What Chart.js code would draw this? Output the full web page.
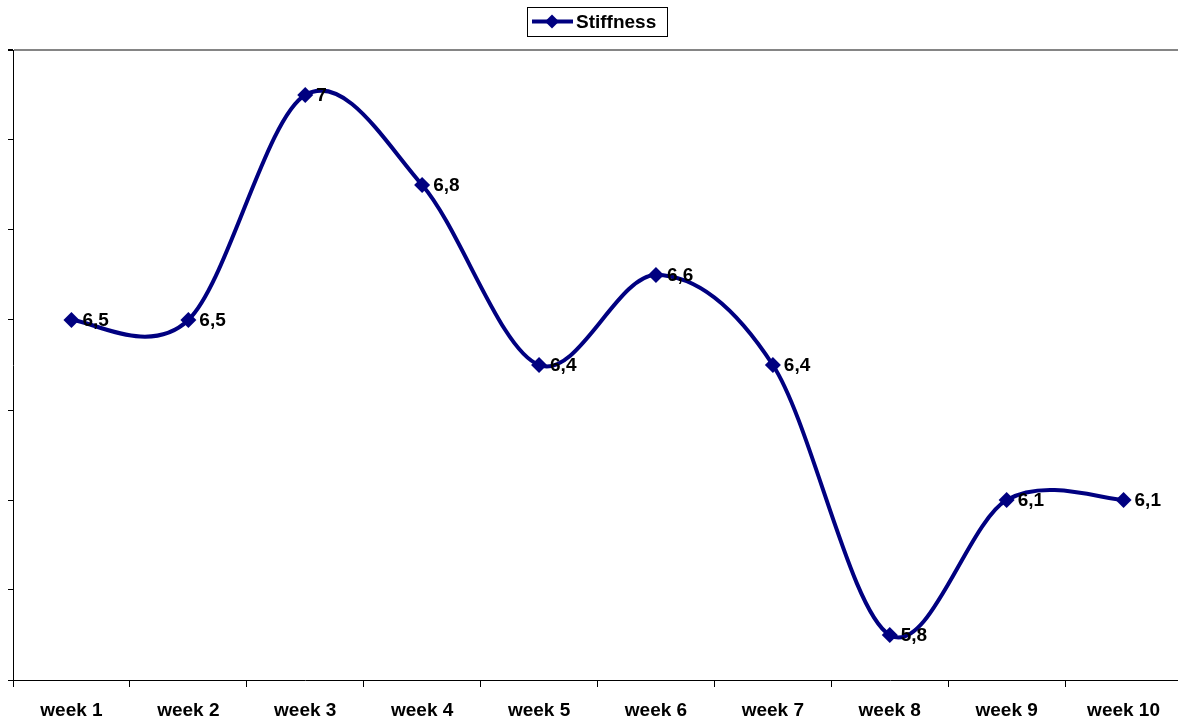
<!DOCTYPE html>
<html>
<head>
<meta charset="utf-8">
<script src="https://cdn.jsdelivr.net/npm/chart.js@4/dist/chart.umd.min.js"></script>
<style>
  html, body { margin: 0; padding: 0; background: #fff; overflow: hidden; }
  #wrap { width: 1178px; height: 721px; overflow: hidden; }
  canvas { display: block; }
</style>
</head>
<body>
<div id="wrap"><canvas id="c" width="1190" height="721"></canvas></div>
<script>
// Weekly stiffness readings
const weeks = ['week 1', 'week 2', 'week 3', 'week 4', 'week 5', 'week 6', 'week 7', 'week 8', 'week 9', 'week 10'];
const stiffness = [6.5, 6.5, 7, 6.8, 6.4, 6.6, 6.4, 5.8, 6.1, 6.1];
const seriesName = 'Stiffness';
// Value axis tick positions (labels are not shown)
const yTickValues = [5.7, 5.9, 6.1, 6.3, 6.5, 6.7, 6.9, 7.1];

const NAVY = '#000080';
const FONT = '"Liberation Sans", Arial, Helvetica, sans-serif';
const yMin = yTickValues[0];
const yMax = yTickValues[yTickValues.length - 1];

const fmt = v => String(v).replace('.', ',');

// Spreadsheet-style smoothing: each control point sits 1/6 of the
// neighbour-to-neighbour vector away from its point.
const smoothCurve = {
  id: 'smoothCurve',
  beforeDatasetDraw(chart, args) {
    const meta = args.meta;
    const line = meta.dataset;
    if (!line) return;
    line.updateControlPoints(chart.chartArea, 'x');
    const pts = line.points;
    const n = pts.length;
    for (let i = 0; i < n; i++) {
      const p = pts[i];
      const prev = pts[Math.max(i - 1, 0)];
      const next = pts[Math.min(i + 1, n - 1)];
      const dx = (next.x - prev.x) / 6;
      const dy = (next.y - prev.y) / 6;
      p.cp1x = p.x - dx; p.cp1y = p.y - dy;
      p.cp2x = p.x + dx; p.cp2y = p.y + dy;
    }
    line._path = undefined;
  }
};

// Value labels to the right of each point
const valueLabels = {
  id: 'valueLabels',
  afterDatasetsDraw(chart) {
    const ctx = chart.ctx;
    const meta = chart.getDatasetMeta(0);
    ctx.save();
    ctx.font = 'bold 19px ' + FONT;
    ctx.fillStyle = '#000';
    ctx.textAlign = 'left';
    ctx.textBaseline = 'middle';
    meta.data.forEach((pt, i) => {
      ctx.fillText(fmt(chart.data.datasets[0].data[i]), pt.x + 11, pt.y + 1);
    });
    ctx.restore();
  }
};

// Boxed legend with a line-and-diamond sample
const boxedLegend = {
  id: 'boxedLegend',
  afterDraw(chart) {
    const ctx = chart.ctx;
    const x0 = 527.5, y0 = 7.5, w = 140, h = 29;
    ctx.save();
    ctx.strokeStyle = '#000';
    ctx.lineWidth = 1;
    ctx.strokeRect(x0, y0, w, h);
    const cy = 21.5;
    ctx.strokeStyle = NAVY;
    ctx.lineWidth = 4;
    ctx.beginPath();
    ctx.moveTo(532, cy);
    ctx.lineTo(573, cy);
    ctx.stroke();
    ctx.fillStyle = NAVY;
    ctx.beginPath();
    ctx.moveTo(552, cy - 7);
    ctx.lineTo(559, cy);
    ctx.lineTo(552, cy + 7);
    ctx.lineTo(545, cy);
    ctx.closePath();
    ctx.fill();
    ctx.fillStyle = '#000';
    ctx.font = 'bold 19px ' + FONT;
    ctx.textAlign = 'left';
    ctx.textBaseline = 'middle';
    ctx.fillText(seriesName, 576, cy + 1);
    ctx.restore();
  }
};

new Chart(document.getElementById('c'), {
  type: 'line',
  data: {
    labels: weeks,
    datasets: [{
      label: seriesName,
      data: stiffness,
      borderColor: NAVY,
      backgroundColor: NAVY,
      borderWidth: 4,
      tension: 0.4,
      fill: false,
      pointStyle: 'rectRot',
      pointRadius: 8,
      pointBorderWidth: 0,
      pointBackgroundColor: NAVY,
      pointBorderColor: NAVY,
      clip: false
    }]
  },
  options: {
    responsive: false,
    animation: false,
    events: [],
    layout: { padding: { top: 50, left: 0, right: 0, bottom: 0 } },
    plugins: {
      legend: { display: false },
      title: { display: false },
      tooltip: { enabled: false }
    },
    scales: {
      x: {
        type: 'category',
        offset: true,
        grid: {
          offset: true,
          drawOnChartArea: false,
          drawTicks: true,
          tickLength: 7,
          tickColor: '#000',
          tickWidth: 1
        },
        border: { display: true, color: '#000', width: 1 },
        ticks: {
          color: '#000',
          font: { family: FONT, size: 19, weight: 'bold' },
          padding: 12,
          maxRotation: 0,
          autoSkip: false
        },
        afterFit(scale) { scale.height = 41; }
      },
      y: {
        type: 'linear',
        min: yMin,
        max: yMax,
        afterBuildTicks(scale) {
          scale.ticks = yTickValues.map(v => ({ value: v }));
        },
        grid: {
          drawOnChartArea: true,
          drawTicks: true,
          tickLength: 5,
          tickColor: '#000',
          color: ctx => (ctx.tick && Math.abs(ctx.tick.value - yMax) < 1e-9) ? '#858585' : 'rgba(0,0,0,0)',
          lineWidth: ctx => (ctx.tick && Math.abs(ctx.tick.value - yMax) < 1e-9) ? 2 : 1
        },
        border: { display: true, color: '#000', width: 1 },
        ticks: { display: false },
        afterFit(scale) { scale.width = 13; }
      }
    }
  },
  plugins: [smoothCurve, valueLabels, boxedLegend]
});
</script>
</body>
</html>
